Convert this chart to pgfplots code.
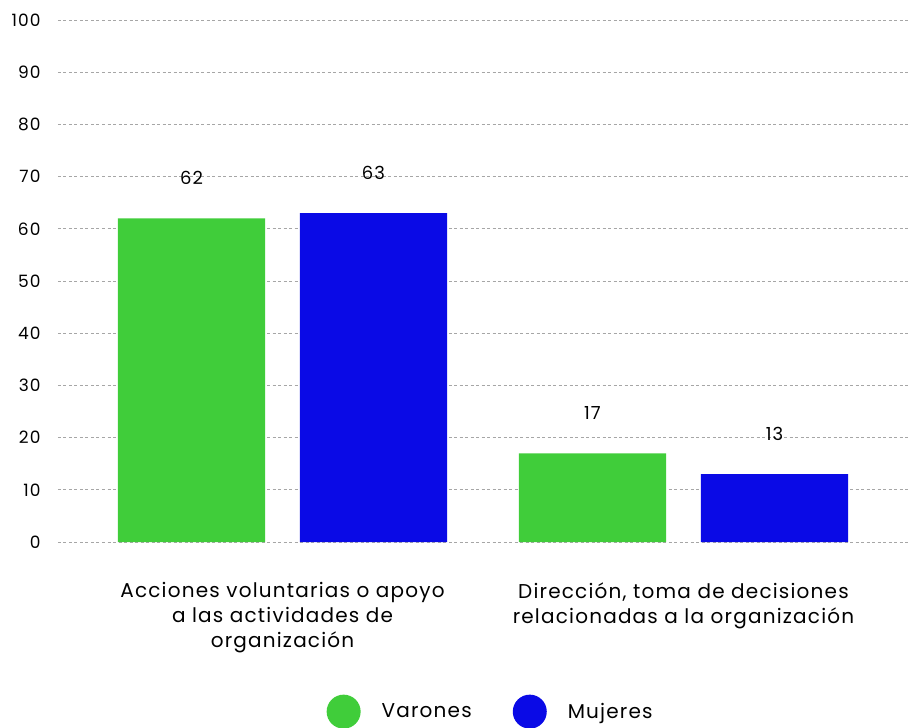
\documentclass[border=0pt]{standalone}
\usepackage{fontspec}
\setmainfont{Poppins}[LetterSpace=6]
\usepackage{pgfplots}
\pgfplotsset{compat=1.18}
\definecolor{varones}{HTML}{40CD3A}
\definecolor{mujeres}{HTML}{0A0AE6}
\begin{document}
\begin{tikzpicture}
\begin{axis}[
  scale only axis,
  width=850pt, height=522pt,
  ymin=0, ymax=100,
  xmin=-0.56, xmax=1.56,
  ytick={0,10,...,100},
  xtick={0,1},
  xticklabels={{Acciones voluntarias o apoyo\\a las actividades de\\organización},
               {Dirección, toma de decisiones\\relacionadas a la organización}},
  axis line style={draw=none},
  major tick length=0pt,
  ymajorgrids,
  grid style={draw=black!35, line width=0.8pt, dash pattern=on 3pt off 2.5pt},
  /pgf/number format/assume math mode=true,
  yticklabel style={font=\fontsize{17}{19}\selectfont, anchor=east, xshift=-14pt},
  xticklabel style={font=\fontsize{20}{25}\selectfont, align=center, anchor=north, yshift=-37pt},
  ybar, bar width=0.367, bar shift=0pt,
  nodes near coords,
  every node near coord/.append style={font=\fontsize{18}{20}\selectfont, text=black, anchor=center, yshift=40pt},
  legend style={draw=none, fill=none, at={(0.509,-0.325)}, anchor=center,
    legend columns=2, font=\fontsize{20}{22}\selectfont,
    /tikz/every even column/.append style={column sep=39pt}},
  legend image code/.code={\fill[#1] (0pt,0pt) circle (17pt);},
]
\addplot[fill=varones, draw=none] coordinates {(-0.227,62) (0.773,17)};
\addplot[fill=mujeres, draw=none] coordinates {(0.227,63) (1.227,13)};
\legend{\hspace{19pt}Varones, \hspace{19pt}Mujeres}
\end{axis}
\pgfresetboundingbox
\path (-58pt,-186pt) rectangle (850pt,542pt);
\end{tikzpicture}
\end{document}
